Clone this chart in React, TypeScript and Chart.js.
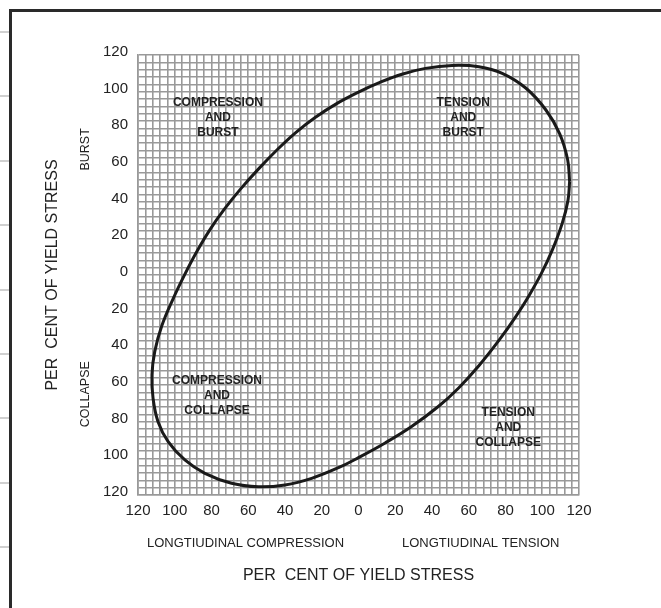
import { useEffect, useRef } from "react";
import { Chart, registerables } from "chart.js";

Chart.register(...registerables);

const FONT = '"Liberation Sans", Arial, Helvetica, sans-serif';

// Axis range (per cent of yield stress)
const AXIS_MIN = -120;
const AXIS_MAX = 120;
const GRID_STEP = 4;
const LABEL_STEP = 20;

// Ellipse of biaxial yield (x: longitudinal, + tension / - compression;
// y: + burst / - collapse), read counter-clockwise from the right extreme
const curveX = [
  114.9, 113.8, 109.5, 102, 91, 78.2, 65.5, 51, 36.4, 23.6, 11, 0,
  -11, -23.6, -34, -44, -54, -64, -73, -81, -88.2, -94.6, -100.9, -107,
  -110.9, -112.4, -111.8, -109.1, -103.6, -94.5, -83.6, -69.1, -54.5, -40,
  -25.5, -10.9, 0, 14.5, 29.1, 43.6, 54.5, 65.5, 76.4, 85.5, 92.7, 99.6,
  105.5, 110.9, 114, 114.9,
];
const curveY = [
  51, 63, 77, 90, 102, 110, 113.6, 114.3, 112.7, 109.5, 104.8, 99.8,
  94, 85.9, 77.8, 68.6, 58.3, 47.1, 35.9, 24.5, 12.4, 0.2, -13, -27.6,
  -41.8, -54.5, -67.3, -80, -90.9, -100.9, -108.2, -113.6, -115.5, -114.5,
  -110.9, -105.1, -99.6, -91.6, -82.5, -71.6, -61.6, -49.5, -35.7, -22.8, -11.4, 1,
  13.7, 28.3, 40.7, 51,
];

// Region annotations (centre of middle line, in data units)
const regionText = [
  ["COMPRESSION", "AND", "BURST"],
  ["TENSION", "AND", "BURST"],
  ["COMPRESSION", "AND", "COLLAPSE"],
  ["TENSION", "AND", "COLLAPSE"],
];
const regionX = [-76.5, 57, -77, 81.5];
const regionY = [85.6, 85.6, -66, -83.5];

const xSubLabels = ["LONGTIUDINAL COMPRESSION", "LONGTIUDINAL TENSION"];
const ySubLabels = ["BURST", "COLLAPSE"];
const axisTitle = "PER  CENT OF YIELD STRESS";

const tickLabel = (v: number | string) => {
  const n = Math.round(Number(v));
  return n % LABEL_STEP === 0 ? String(Math.abs(n)) : "";
};

const decorPlugin = {
  id: "decor",
  beforeDraw(chart: any) {
    const ctx = chart.ctx;
    ctx.save();
    ctx.fillStyle = "#ffffff";
    ctx.fillRect(0, 0, chart.width, chart.height);
    // page frame
    ctx.strokeStyle = "#2a2a2a";
    ctx.lineWidth = 3;
    ctx.beginPath();
    ctx.moveTo(10.5, chart.height);
    ctx.lineTo(10.5, 10.5);
    ctx.lineTo(chart.width, 10.5);
    ctx.stroke();
    // faint margin marks
    ctx.strokeStyle = "#d0d0d0";
    ctx.lineWidth = 2;
    for (let y = 32; y < chart.height; y += 64.4) {
      ctx.beginPath();
      ctx.moveTo(0, Math.round(y));
      ctx.lineTo(9, Math.round(y));
      ctx.stroke();
    }
    ctx.restore();
  },
  afterDraw(chart: any) {
    const ctx = chart.ctx;
    const xs = chart.scales.x;
    const ys = chart.scales.y;
    const area = chart.chartArea;
    ctx.save();
    ctx.fillStyle = "#222";
    ctx.textAlign = "center";
    ctx.textBaseline = "middle";

    // region labels
    ctx.font = `bold 12px ${FONT}`;
    regionText.forEach((lines, i) => {
      const cx = xs.getPixelForValue(regionX[i]);
      const cy = ys.getPixelForValue(regionY[i]);
      lines.forEach((t, j) => ctx.fillText(t, cx, cy + (j - 1) * 15));
    });

    // x sub labels
    ctx.font = `13px ${FONT}`;
    ctx.fillText(xSubLabels[0], xs.getPixelForValue(-61.5), area.bottom + 48);
    ctx.fillText(xSubLabels[1], xs.getPixelForValue(66.5), area.bottom + 48);

    // x title
    ctx.font = `16px ${FONT}`;
    ctx.fillText(axisTitle, (area.left + area.right) / 2, area.bottom + 81);

    // y title
    ctx.save();
    ctx.translate(53, (area.top + area.bottom) / 2);
    ctx.rotate(-Math.PI / 2);
    ctx.fillText(axisTitle, 0, 0);
    ctx.restore();

    // y sub labels
    ctx.font = `12.5px ${FONT}`;
    [ys.getPixelForValue(68.5), ys.getPixelForValue(-65)].forEach((py, i) => {
      ctx.save();
      ctx.translate(86, py);
      ctx.rotate(-Math.PI / 2);
      ctx.fillText(ySubLabels[i], 0, 0);
      ctx.restore();
    });
    ctx.restore();
  },
};

export default function App() {
  const ref = useRef<HTMLCanvasElement | null>(null);

  useEffect(() => {
    if (!ref.current) return;
    const points = curveX.map((x, i) => ({ x, y: curveY[i] }));
    const gridColor = "#999999";
    const chart = new Chart(ref.current, {
      type: "scatter",
      data: {
        datasets: [
          {
            data: points,
            showLine: true,
            borderColor: "#1a1a1a",
            borderWidth: 3,
            pointRadius: 0,
            tension: 0.4,
            fill: false,
          },
        ],
      },
      options: {
        animation: false,
        responsive: false,
        devicePixelRatio: 1,
        layout: { padding: { top: 55, right: 82, left: 0, bottom: 0 } },
        plugins: { legend: { display: false }, tooltip: { enabled: false } },
        scales: {
          x: {
            type: "linear",
            min: AXIS_MIN,
            max: AXIS_MAX,
            ticks: {
              stepSize: GRID_STEP,
              autoSkip: false,
              maxRotation: 0,
              padding: 7,
              color: "#222",
              font: { family: FONT, size: 15 },
              callback: tickLabel,
            },
            grid: { color: gridColor, lineWidth: 1.6, drawTicks: false },
            border: { color: gridColor, width: 1.6 },
            afterFit: (s: any) => {
              s.height = 113;
            },
          },
          y: {
            type: "linear",
            min: AXIS_MIN,
            max: AXIS_MAX,
            ticks: {
              stepSize: GRID_STEP,
              autoSkip: false,
              padding: 10,
              labelOffset: -3,
              color: "#222",
              font: { family: FONT, size: 15 },
              callback: tickLabel,
            },
            grid: { color: gridColor, lineWidth: 1.6, drawTicks: false },
            border: { color: gridColor, width: 1.6 },
            afterFit: (s: any) => {
              s.width = 138;
            },
          },
        },
      } as any,
      plugins: [decorPlugin],
    });
    return () => chart.destroy();
  }, []);

  return (
    <div style={{ position: "absolute", left: 0, top: 0, width: 661, height: 608, background: "#fff" }}>
      <canvas ref={ref} width={661} height={608} style={{ display: "block" }} />
    </div>
  );
}
